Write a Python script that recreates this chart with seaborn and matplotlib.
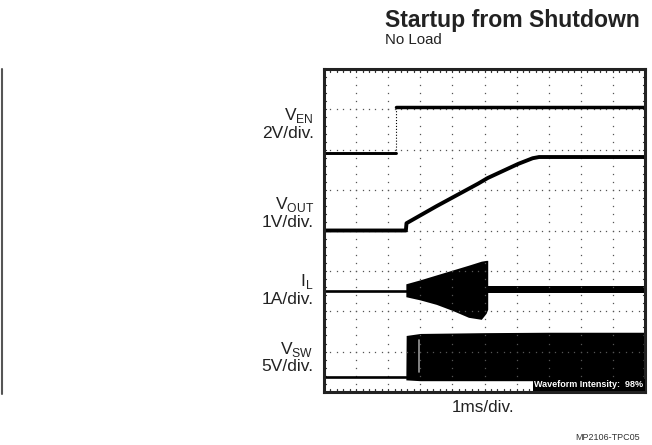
import numpy as np
import matplotlib
matplotlib.use("Agg")
import matplotlib.pyplot as plt
import seaborn as sns
from matplotlib.lines import Line2D

# scope traces, x in divisions (1ms/div), y in divisions (0 = bottom, 8 = top)
ven_t = [0.0, 2.25, 2.25, 10.0]
ven_v = [5.93, 5.93, 7.05, 7.05]

vout_t = [0.0, 2.55, 2.57, 3.5, 4.8, 5.1, 6.05, 6.5, 6.7, 10.0]
vout_v = [4.0, 4.0, 4.18, 4.6, 5.16, 5.3, 5.65, 5.79, 5.82, 5.82]

il_t = [0.0, 2.55]
il_v = [2.5, 2.5]
burst_t = [2.55, 3.0, 3.5, 4.0, 4.5, 4.9, 5.05, 5.1]
burst_hi = [2.68, 2.78, 2.90, 3.02, 3.14, 3.24, 3.26, 3.26]
burst_lo = [2.36, 2.28, 2.17, 2.02, 1.85, 1.80, 1.95, 2.05]
il_run_t = [5.1, 10.0]
il_run_hi = [2.63, 2.63]
il_run_lo = [2.46, 2.46]

vsw_t = [0.0, 2.55]
vsw_v = [0.37, 0.37]
sw_t = [2.55, 2.56, 3.0, 5.0, 7.0, 10.0]
sw_hi = [0.37, 1.40, 1.45, 1.47, 1.48, 1.48]
sw_lo = [0.30, 0.30, 0.28, 0.28, 0.28, 0.28]

labels = [("V$_{\\mathregular{EN}}$", "2V/div.", 6.6),
          ("V$_{\\mathregular{OUT}}$", "1V/div.", 4.4),
          ("I$_{\\mathregular{L}}$", "1A/div.", 2.5),
          ("V$_{\\mathregular{SW}}$", "5V/div.", 0.82)]

sns.set_theme(style="white")
plt.rcParams["font.family"] = ["Liberation Sans", "DejaVu Sans"]

W, H = 652, 445
fig = plt.figure(figsize=(W / 100, H / 100), dpi=100)
x0, x1, y0, y1 = 324, 645, 69, 392
ax = fig.add_axes([x0 / W, 1 - y1 / H, (x1 - x0) / W, (y1 - y0) / H])
ax.set_xlim(0, 10)
ax.set_ylim(0, 8)
ax.set_xticks([])
ax.set_yticks([])
for s in ax.spines.values():
    s.set_linewidth(2.2)
    s.set_color("#222222")

# dotted graticule
dots = np.round(np.arange(0, 10.01, 0.2), 2)
for gy in range(1, 8):
    ax.plot(dots, np.full_like(dots, gy), ls="none", marker="s", ms=0.9, mew=0, color="#555555")
dots_y = np.round(np.arange(0, 8.01, 0.2), 2)
for gx in range(1, 10):
    ax.plot(np.full_like(dots_y, gx), dots_y, ls="none", marker="s", ms=0.9, mew=0, color="#555555")
# frame ticks
for tx in dots[1:-1]:
    ax.plot([tx, tx], [8, 7.93], color="#333333", lw=0.9)
    ax.plot([tx, tx], [0, 0.07], color="#333333", lw=0.9)
for ty in dots_y[1:-1]:
    ax.plot([0, 0.05], [ty, ty], color="#333333", lw=0.9)
    ax.plot([10, 9.95], [ty, ty], color="#333333", lw=0.9)

k = "black"
sns.lineplot(x=ven_t[:2], y=ven_v[:2], ax=ax, color=k, lw=2.1, sort=False, estimator=None)
sns.lineplot(x=ven_t[1:3], y=ven_v[1:3], ax=ax, color=k, lw=0.8, ls=":", sort=False, estimator=None)
sns.lineplot(x=ven_t[2:], y=ven_v[2:], ax=ax, color=k, lw=2.5, sort=False, estimator=None)
sns.lineplot(x=vout_t, y=vout_v, ax=ax, color=k, lw=2.8, sort=False, estimator=None)
sns.lineplot(x=il_t, y=il_v, ax=ax, color=k, lw=1.9, sort=False, estimator=None)
ax.fill_between(burst_t, burst_lo, burst_hi, color=k, lw=0)
ax.fill_between(il_run_t, il_run_lo, il_run_hi, color=k, lw=0)
sns.lineplot(x=vsw_t, y=vsw_v, ax=ax, color=k, lw=1.9, sort=False, estimator=None)
ax.fill_between(sw_t, sw_lo, sw_hi, color=k, lw=0)
ax.plot([2.95, 2.95], [0.5, 1.3], color="#999999", lw=1.2)
ax.text(9.95, 0.18, "Waveform Intensity:  98%", color="white", fontsize=6.5,
        fontweight="bold", ha="right", va="center",
        bbox=dict(facecolor="black", edgecolor="none", pad=1.2))

for name, scale, yd in labels:
    ax.text(-0.32, yd + 0.24, name, ha="right", va="center", fontsize=12.5,
            clip_on=False, color="#222222")
    ax.text(-0.32, yd - 0.2, scale, ha="right", va="center", fontsize=12.5,
            clip_on=False, color="#222222")

fig.text(385 / W, 1 - 20 / H, "Startup from Shutdown", fontsize=16.6,
         fontweight="bold", ha="left", va="center", color="#222222")
fig.text(385 / W, 1 - 40 / H, "No Load", fontsize=10.8, ha="left", va="center", color="#222222")
fig.text(483 / W, 1 - 408 / H, "1ms/div.", fontsize=12.3, ha="center", va="center", color="#222222")
fig.text(640 / W, 1 - 437 / H, "MP2106-TPC05", fontsize=6.5, ha="right", va="center", color="#333333")

fig.add_artist(Line2D([1.5 / W, 1.5 / W], [1 - 69 / H, 1 - 394 / H], color="#555555", lw=1.5))

fig.savefig("out.png", dpi=100)
